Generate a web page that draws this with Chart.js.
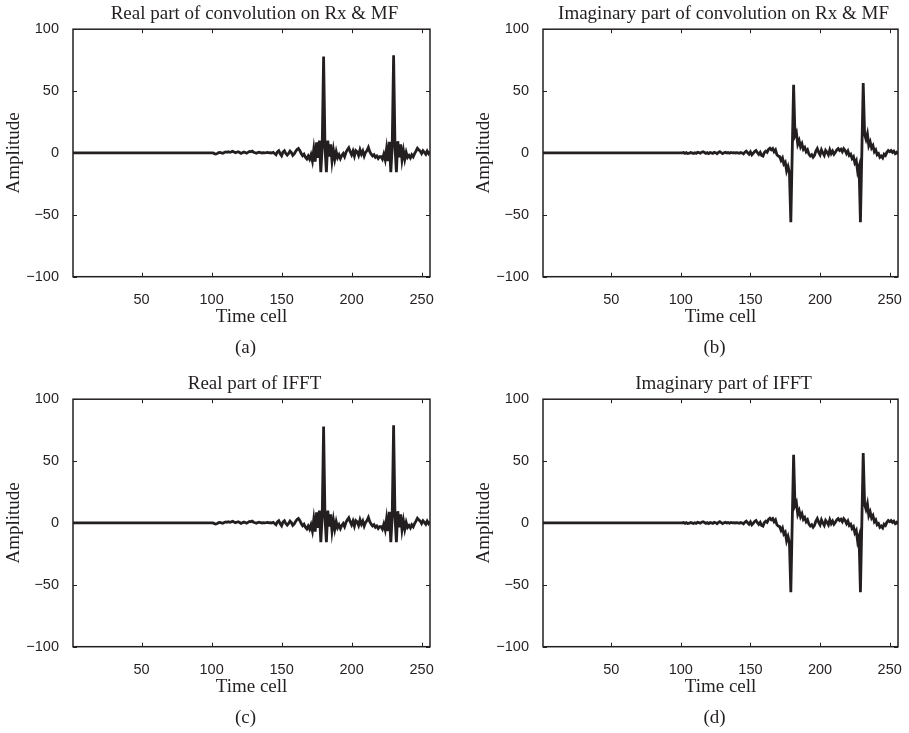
<!DOCTYPE html>
<html>
<head>
<meta charset="utf-8">
<title>Convolution on Rx & MF vs IFFT</title>
<script src="https://cdn.jsdelivr.net/npm/chart.js@4/dist/chart.umd.min.js"></script>
<style>
  html, body { margin: 0; padding: 0; background: #fff; overflow: hidden; }
  #page { position: relative; width: 909px; height: 733px; }
  canvas { position: absolute; }
</style>
</head>
<body>
<div id="page">
  <canvas id="panelA" width="455" height="366" style="left:0;top:0"></canvas>
  <canvas id="panelB" width="439" height="366" style="left:470px;top:0"></canvas>
  <canvas id="panelC" width="455" height="366" style="left:0;top:370px"></canvas>
  <canvas id="panelD" width="439" height="366" style="left:470px;top:370px"></canvas>
</div>
<script>
// tick positions and panel texts
const xTicks = [50, 100, 150, 200, 250];
const yTicks = [-100, -50, 0, 50, 100];
const titles = [
  "Real part of convolution on Rx & MF",
  "Imaginary part of convolution on Rx & MF",
  "Real part of IFFT",
  "Imaginary part of IFFT"
];
const captions = ["(a)", "(b)", "(c)", "(d)"];

// amplitude per time cell 1..256
const realConv = [
  0, 0, 0, 0, 0, 0, 0, 0, 0, 0,
  0, 0, 0, 0, 0, 0, 0, 0, 0, 0,
  0, 0, 0, 0, 0, 0, 0, 0, 0, 0,
  0, 0, 0, 0, 0, 0, 0, 0, 0, 0,
  0, 0, 0, 0, 0, 0, 0, 0, 0, 0,
  0, 0, 0, 0, 0, 0, 0, 0, 0, 0,
  0, 0, 0, 0, 0, 0, 0, 0, 0, 0,
  0, 0, 0, 0, 0, 0, 0, 0, 0, 0,
  0, 0, 0, 0, 0, 0, 0, 0, 0, 0,
  0, 0, 0, 0, 0, 0, 0, 0, 0, 0,
  0, -0.5, -0.8, -0.5, 0.3, 0.5, 0, -0.3, 0.4, 0.8,
  0.5, 1.0, 0.6, 0.9, 1.3, 0.7, 0.2, 0.6, 1.0, 0.4,
  -0.3, 0.2, 0.8, 0.3, -0.2, 0.5, 1.2, 0.9, 1.5, 0.6,
  0.2, -0.2, 0.3, 0.6, 0.2, 0.0, 0.3, 0.1, 0.2, 0.4,
  0.1, 0.3, 0.0, 0.5, -0.5, -1.5, 0.8, 1.8, -0.6, -2.2,
  0.8, 1.8, -0.5, -1.8, -0.4, 1.5, 0.3, -2.0, -0.8, 1.2,
  2.8, 3.6, 2.0, -0.5, -2.2, -1.0, -3.5, -4.8, -2.5, -5.0,
  -1.5, -6.5, 3.0, -7.0, 8.5, -4.0, 10.0, -15.5, 5.0, 78.0,
  4.0, -15.5, 10.0, -3.0, 7.0, -6.5, 2.5, -5.0, 1.0, -3.8,
  -1.5, -4.5, -2.0, -0.5, -3.0, 0.5, 2.5, 4.2, 1.0, -1.5,
  1.5, -2.5, 2.0, 1.0, -2.0, 2.5, -1.0, 1.5, -2.5, 0.5,
  2.0, 4.5, 1.0, -1.0, -2.5, -1.5, -3.5, -2.5, -4.5, -3.0,
  -3.0, -5.0, -1.0, -5.5, 3.5, -6.5, 9.0, -15.5, 5.0, 79.0,
  5.0, -15.5, 9.5, -3.5, 7.0, -5.5, 2.0, -5.0, 0.5, -3.5,
  -2.0, -4.0, -1.5, -3.0, -0.5, 1.5, 3.8, 2.5, 1.5, -0.5,
  1.8, 0.5, -1.0, 1.5, -0.5, 1.2
];

const imagConv = [
  0, 0, 0, 0, 0, 0, 0, 0, 0, 0,
  0, 0, 0, 0, 0, 0, 0, 0, 0, 0,
  0, 0, 0, 0, 0, 0, 0, 0, 0, 0,
  0, 0, 0, 0, 0, 0, 0, 0, 0, 0,
  0, 0, 0, 0, 0, 0, 0, 0, 0, 0,
  0, 0, 0, 0, 0, 0, 0, 0, 0, 0,
  0, 0, 0, 0, 0, 0, 0, 0, 0, 0,
  0, 0, 0, 0, 0, 0, 0, 0, 0, 0,
  0, 0, 0, 0, 0, 0, 0, 0, 0, 0,
  0, 0, 0, 0, 0, 0, 0, 0, 0, 0,
  0, 0.3, -0.3, 0.2, -0.5, -0.2, 0.3, 0.0, -0.4, 0.2,
  -0.3, 0.5, 0.2, -0.2, 0.6, 1.0, 0.4, -0.3, 0.2, -0.5,
  0.3, 0.0, -0.4, 0.5, 0.2, -0.6, 0.4, 1.0, 0.3, -0.5,
  0.2, 0.5, 0.0, 0.3, -0.2, 0.4, 0.1, 0.2, 0.0, 0.3,
  0.1, -0.2, 0.3, 0.0, -0.8, 0.6, 1.5, 0.2, -1.0, 0.8,
  -1.5, -0.3, 1.2, 2.0, 0.2, -1.2, 0.5, -2.0, -2.5, 0.3,
  1.5, 0.5, 2.8, 3.8, 2.5, 3.5, 1.0, 2.5, -1.5, -2.5,
  -3.0, -6.0, -4.0, -9.0, -7.5, -14.5, -11.0, -16.0, -56.0, 0.0,
  55.0, 14.0, 16.5, 7.0, 10.0, 5.0, 7.5, 3.0, 4.5, 1.0,
  2.5, -1.0, -2.5, -1.5, -3.5, -2.0, 1.5, 3.5, 0.5, -1.5,
  2.5, 0.0, -2.0, 2.0, 0.5, -1.5, 2.5, -0.5, 1.5, -1.0,
  0.5, 2.5, 3.5, 2.0, 3.0, 1.0, 3.5, 2.0, -0.5, 1.5,
  -2.0, -1.0, -4.5, -3.0, -8.0, -6.0, -15.0, -11.0, -56.0, 0.0,
  56.5, 15.0, 11.0, 15.5, 6.0, 9.0, 4.0, 6.0, 1.0, 2.5,
  -1.5, -0.5, -3.5, -2.5, -4.0, -1.0, -2.0, 0.5, 2.0, 1.0,
  2.0, 0.5, 1.5, -0.5, 0.5, -1.0
];

// the IFFT panels show the same samples as the convolution panels
const realIfft = realConv;
const imagIfft = imagConv;

const ink = "#231f20";
const serif = "'Liberation Serif', 'Times New Roman', serif";
const sans = "'Liberation Sans', Arial, sans-serif";

// center title and caption over the plot box instead of the whole canvas
const centerTexts = {
  id: "centerTexts",
  afterLayout(chart) {
    const a = chart.chartArea;
    chart.boxes.forEach(b => {
      if (b.axis || !b.options || typeof b.options.text !== "string") return;
      const shift = b.position === "bottom" ? -6 : 3;
      b.left = a.left + shift;
      b.right = a.right + shift;
      b.width = b.right - b.left;
    });
  }
};

// closed box with inward tick marks, like the original plots
const boxTicks = {
  id: "boxTicks",
  afterDatasetsDraw(chart) {
    const { ctx, chartArea: a, scales: { x, y } } = chart;
    ctx.save();
    ctx.strokeStyle = ink;
    ctx.lineWidth = 1;
    ctx.beginPath();
    x.ticks.forEach(t => {
      const px = Math.round(x.getPixelForValue(t.value)) + 0.5;
      ctx.moveTo(px, a.bottom); ctx.lineTo(px, a.bottom - 4);
      ctx.moveTo(px, a.top); ctx.lineTo(px, a.top + 4);
    });
    y.ticks.forEach(t => {
      const py = Math.round(y.getPixelForValue(t.value)) + 0.5;
      ctx.moveTo(a.left, py); ctx.lineTo(a.left + 4, py);
      ctx.moveTo(a.right, py); ctx.lineTo(a.right - 4, py);
    });
    ctx.stroke();
    ctx.lineWidth = 1.5;
    ctx.strokeRect(a.left, a.top, a.right - a.left, a.bottom - a.top);
    ctx.restore();
  }
};

function makePanel(id, values, title, caption, rightPad) {
  const points = values.map((v, i) => ({ x: i + 1, y: v }));
  new Chart(document.getElementById(id), {
    type: "line",
    data: {
      datasets: [{
        data: points,
        borderColor: ink,
        borderWidth: 2.8,
        pointRadius: 0,
        tension: 0,
        fill: false
      }]
    },
    options: {
      responsive: false,
      animation: false,
      devicePixelRatio: 1,
      layout: { autoPadding: false, padding: { left: 0, right: rightPad, top: 0, bottom: 0 } },
      plugins: {
        legend: { display: false },
        tooltip: { enabled: false },
        title: {
          display: true,
          text: title,
          color: ink,
          font: { family: serif, size: 19, weight: "normal" },
          padding: { top: 3, bottom: 3.4 }
        },
        subtitle: {
          display: true,
          position: "bottom",
          text: caption,
          color: ink,
          font: { family: serif, size: 19, weight: "normal" },
          padding: { top: 0, bottom: 6.5 }
        }
      },
      scales: {
        x: {
          type: "linear",
          min: 1,
          max: 256,
          grid: { display: false },
          border: { display: false },
          afterBuildTicks: s => { s.ticks = xTicks.map(v => ({ value: v })); },
          afterFit: s => { s.height = 60; },
          ticks: { color: ink, padding: 7, maxRotation: 0, font: { family: sans, size: 14.5 } },
          title: {
            display: true,
            text: "Time cell",
            color: ink,
            font: { family: serif, size: 19 },
            padding: { top: 0, bottom: 8.5 }
          }
        },
        y: {
          min: -100,
          max: 100,
          grid: { display: false },
          border: { display: false },
          afterBuildTicks: s => { s.ticks = yTicks.map(v => ({ value: v })); },
          afterFit: s => { s.width = 73; },
          ticks: {
            color: ink,
            padding: 6,
            font: { family: sans, size: 14.5 },
            callback: v => String(v).replace("-", "\u2212")
          },
          title: {
            display: true,
            text: "Amplitude",
            color: ink,
            font: { family: serif, size: 19 },
            padding: { top: 3, bottom: 0 }
          }
        }
      }
    },
    plugins: [centerTexts, boxTicks]
  });
}

makePanel("panelA", realConv, titles[0], captions[0], 25);
makePanel("panelB", imagConv, titles[1], captions[1], 10);
makePanel("panelC", realIfft, titles[2], captions[2], 25);
makePanel("panelD", imagIfft, titles[3], captions[3], 10);
</script>
</body>
</html>
